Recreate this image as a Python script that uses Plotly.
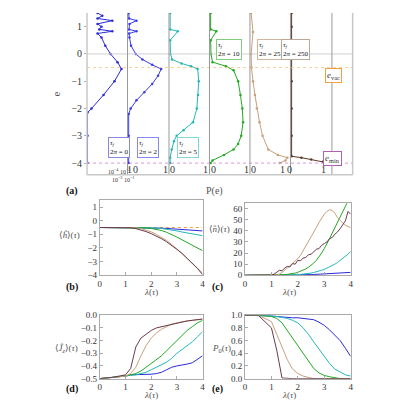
import plotly.graph_objects as go

# ---- panel (a): P(e) strips ----
e1 = [-4.0, -3.0, -2.15, -2.0, -1.5, -1.0, -0.55, -0.3, 0.0, 0.3, 0.6, 0.75, 0.83, 0.9, 1.0, 1.1, 1.22, 1.3, 1.4, 1.5]
p1 = [1e-4, 1e-4, 1e-4, 2.5e-4, 4e-3, 5e-2, 2.5e-1, 1e-1, 2e-2, 6e-3, 2.5e-3, 1e-3, 3e-2, 1.5e-3, 2.5e-3, 1e-3, 3e-2, 1e-3, 3e-3, 1e-3]
e2 = [-4.0, -3.0, -2.2, -2.0, -1.7, -1.4, -1.1, -0.8, -0.55, -0.4, -0.2, 0.0, 0.3, 0.6, 0.75, 0.83, 0.9, 1.1, 1.22, 1.3, 1.5]
p2 = [0, 0, 0, 0.05, 0.2, 0.4, 0.6, 0.75, 0.83, 0.6, 0.35, 0.18, 0.06, 0.02, 0.01, 0.2, 0.01, 0.02, 0.2, 0.01, 0.0]
e3 = [-4.0, -3.8, -3.5, -3.2, -3.0, -2.8, -2.5, -2.0, -1.5, -1.0, -0.55, -0.45, -0.35, -0.2, 0.0, 0.5, 0.83, 0.9, 1.5]
p3 = [0, 0.0, 0.04, 0.1, 0.17, 0.35, 0.6, 0.7, 0.73, 0.75, 0.72, 0.55, 0.3, 0.05, 0.01, 0.0, 0.2, 0.0, 0.0]
e4 = [-4.0, -3.9, -3.7, -3.5, -3.3, -3.0, -2.5, -2.0, -1.5, -1.0, -0.6, -0.45, -0.3, 0.0, 0.5, 0.83, 0.9, 1.5]
p4 = [0, 0.05, 0.35, 0.6, 0.72, 0.8, 0.85, 0.83, 0.78, 0.72, 0.6, 0.4, 0.05, 0.01, 0.0, 0.15, 0.0, 0.0]
e5 = [-4.0, -3.9, -3.8, -3.7, -3.5, -3.0, -2.5, -2.0, -1.5, -1.0, -0.5, 0.0, 0.8, 1.5]
p5 = [0.75, 0.9, 0.95, 0.7, 0.45, 0.3, 0.22, 0.15, 0.1, 0.05, 0.01, 0.0, 0.05, 0.0]
e6 = [-4.0, -3.95, -3.87, -3.8, -3.75, -3.0, -2.0, -1.0, 0.0, 1.0, 1.5]
p6 = [0.95, 0.8, 0.5, 0.25, 0.0, 0.0, 0.0, 0.0, 0.0, 0.0, 0.0]
strip_e = [e1, e2, e3, e4, e5, e6]
strip_p = [p1, p2, p3, p4, p5, p6]
strip_labels = ["0", "2", "5", "10", "25", "250"]
strip_colors = ["#2a2ad8", "#3a3af0", "#22b8b8", "#22aa22", "#c8a07a", "#5a3a28"]
box_colors = ["#8888e0", "#8888f0", "#80d8d8", "#80cc80", "#d0b8a0", "#b8a898"]

# ---- panels (b)-(e) ----
lam = [0, 0.5, 1.0, 1.2, 1.4, 1.6, 1.8, 2.0, 2.2, 2.4, 2.6, 2.8, 3.0, 3.2, 3.4, 3.6, 3.8, 4.0]
h_blue = [-0.5, -0.5, -0.5, -0.5, -0.5, -0.5, -0.51, -0.52, -0.53, -0.55, -0.57, -0.6, -0.62, -0.65, -0.68, -0.7, -0.72, -0.75]
h_cyan = [-0.5, -0.5, -0.5, -0.5, -0.5, -0.5, -0.51, -0.52, -0.54, -0.57, -0.62, -0.68, -0.75, -0.83, -0.9, -0.97, -1.04, -1.1]
h_green = [-0.5, -0.5, -0.5, -0.5, -0.5, -0.51, -0.53, -0.57, -0.63, -0.72, -0.85, -1.0, -1.2, -1.4, -1.6, -1.8, -2.0, -2.2]
h_tan = [-0.5, -0.5, -0.5, -0.5, -0.52, -0.58, -0.68, -0.82, -1.0, -1.2, -1.45, -1.75, -2.05, -2.4, -2.75, -3.1, -3.45, -3.85]
h_brown = [-0.5, -0.5, -0.5, -0.52, -0.58, -0.68, -0.8, -0.95, -1.12, -1.32, -1.55, -1.8, -2.1, -2.4, -2.75, -3.1, -3.5, -3.95]

lam_n = [0, 0.5, 1.0, 1.1, 1.2, 1.3, 1.4, 1.5, 1.6, 1.7, 1.8, 1.9, 2.0, 2.1, 2.2, 2.3, 2.4, 2.5, 2.6, 2.7, 2.8, 2.9, 3.0,
         3.1, 3.2, 3.3, 3.4, 3.5, 3.6, 3.7, 3.8, 3.9, 4.0]
n_blue = [0, 0, 0, 0, 0, 0, 0, 0.1, 0.1, 0.1, 0.2, 0.2, 0.3, 0.3, 0.4, 0.5, 0.5, 0.6, 0.7, 0.8, 0.9, 1.0, 1.1,
          1.2, 1.4, 1.5, 1.6, 1.8, 1.9, 2.1, 2.2, 2.4, 2.6]
n_cyan = [0, 0, 0, 0, 0, 0, 0.1, 0.1, 0.2, 0.3, 0.4, 0.5, 0.6, 0.8, 1.0, 1.3, 1.6, 2.0, 2.5, 3.0, 3.7, 4.5, 5.3,
          6.3, 7.4, 8.6, 10, 11.5, 13.2, 15, 17, 19, 21.5]
n_green = [0, 0, 0, 0.1, 0.2, 0.3, 0.4, 0.6, 0.8, 1.1, 1.5, 2.0, 2.7, 3.5, 4.5, 5.7, 7.2, 9.0, 11, 13.5, 16.5, 20, 24,
           28, 33, 38, 43, 48, 53, 58, 63, 67, 70]
n_tan = [0, 0, 0, 0, 0.3, 1.0, 2.5, 4.5, 6.5, 8.5, 10.5, 12.5, 15, 18, 22, 26, 30, 34, 38.5, 43, 47.5, 51.5, 55,
         57.5, 59, 58.5, 56, 52, 49, 47, 45, 44, 43]
n_brown = [0, 0, 0.2, 1.0, 2.5, 4.5, 4.0, 6.5, 8.0, 7.5, 10.5, 10.0, 13.5, 13.0, 15.5, 16.0, 18.5, 19.0, 21.0, 23.5, 24.0,
           27.0, 28.5, 30.0, 33.0, 34.0, 37.0, 39.0, 42.0, 46.0, 49.0, 57.5, 55.0]

jz_blue = [-0.5, -0.49, -0.48, -0.47, -0.47, -0.47, -0.465, -0.465, -0.46, -0.45, -0.43, -0.41, -0.4, -0.395, -0.385, -0.375, -0.35, -0.32]
jz_cyan = [-0.5, -0.49, -0.48, -0.475, -0.47, -0.46, -0.45, -0.43, -0.41, -0.39, -0.37, -0.34, -0.3, -0.27, -0.24, -0.21, -0.17, -0.13]
jz_green = [-0.5, -0.49, -0.48, -0.47, -0.46, -0.44, -0.41, -0.38, -0.35, -0.32, -0.28, -0.24, -0.2, -0.16, -0.12, -0.09, -0.06, -0.04]
jz_tan = [-0.5, -0.49, -0.48, -0.46, -0.41, -0.32, -0.24, -0.18, -0.14, -0.11, -0.09, -0.07, -0.06, -0.05, -0.045, -0.04, -0.035, -0.03]
jz_brown = [-0.5, -0.49, -0.47, -0.42, -0.25, -0.18, -0.15, -0.12, -0.1, -0.09, -0.08, -0.07, -0.06, -0.05, -0.045, -0.04, -0.035, -0.03]

p0_blue = [1.0, 1.0, 0.99, 0.98, 0.97, 0.97, 0.96, 0.96, 0.95, 0.95, 0.93, 0.89, 0.84, 0.77, 0.68, 0.6, 0.48, 0.35]
p0_cyan = [1.0, 1.0, 0.99, 0.98, 0.97, 0.95, 0.92, 0.88, 0.8, 0.7, 0.58, 0.46, 0.35, 0.24, 0.15, 0.1, 0.06, 0.04]
p0_green = [1.0, 1.0, 0.98, 0.95, 0.88, 0.76, 0.62, 0.5, 0.38, 0.26, 0.16, 0.09, 0.05, 0.03, 0.01, 0.0, 0.0, 0.0]
p0_tan = [1.0, 1.0, 0.9, 0.7, 0.48, 0.3, 0.15, 0.08, 0.04, 0.02, 0.0, 0.0, 0.0, 0.0, 0.0, 0.0, 0.0, 0.0]
p0_brown = [1.0, 1.0, 0.8, 0.45, 0.01, 0.0, 0.0, 0.0, 0.0, 0.0, 0.0, 0.0, 0.0, 0.0, 0.0, 0.0, 0.0, 0.0]

line_colors = ["#2a2ad8", "#22b8b8", "#22aa22", "#c8a07a", "#6a3a4a"]
FONT = "Liberation Serif, DejaVu Serif, serif"
GRAY = "#aaaaaa"
TXT = "#333333"


def note(x, y, text, size=9, **kw):
    # annotation placed in pixel coordinates of the 400x400 page
    fig.add_annotation(xref="paper", yref="paper", x=x / 400, y=1 - y / 400, text=text, showarrow=False,
                       font=dict(family=FONT, size=size, color=kw.pop("color", TXT)), **kw)


fig = go.Figure()

# strips x-pixel edges
edges = [78, 119, 161, 202, 243, 284, 326, 347]
top_y = [1 - 166 / 400, 1.0]
for i in range(6):
    ax = "" if i == 0 else str(i + 1)
    fig.add_trace(go.Scatter(x=strip_p[i], y=strip_e[i], mode="lines+markers",
                             line=dict(color=strip_colors[i], width=1),
                             marker=dict(size=2.5, color=strip_colors[i]),
                             xaxis="x" + ax, yaxis="y", showlegend=False))
    xa = dict(domain=[edges[i] / 400, edges[i + 1] / 400], anchor="y",
              showgrid=False, zeroline=False, showticklabels=False, ticks="")
    if i == 0:
        xa.update(type="log", range=[-4.05, 0])
    else:
        xa.update(range=[-0.03, 1.03])
    fig.update_layout(**{"xaxis" + ax: xa})

fig.update_layout(yaxis=dict(domain=top_y, anchor="x", range=[-4.43, 1.5],
                             tickvals=[-4, -3, -2, -1, 0, 1], ticktext=["−4", "−3", "−2", "−1", "0", "1"],
                             showgrid=False, zeroline=False, ticks="outside", ticklen=2, tickcolor=GRAY,
                             tickfont=dict(family=FONT, size=10, color=TXT),
                             title=dict(text="e", font=dict(family=FONT, size=11, color="#555"), standoff=8)))

# horizontal reference lines across panel (a)
fig.add_shape(type="line", xref="paper", yref="y", x0=edges[0] / 400, x1=edges[-1] / 400, y0=0, y1=0,
              line=dict(color="#d0d0d0", width=1))
fig.add_shape(type="line", xref="paper", yref="y", x0=edges[0] / 400, x1=edges[-1] / 400, y0=-0.5, y1=-0.5,
              line=dict(color="#f8c080", width=0.8, dash="dot"))
fig.add_shape(type="line", xref="paper", yref="y", x0=edges[0] / 400, x1=edges[-1] / 400, y0=-4, y1=-4,
              line=dict(color="#d080d0", width=0.8, dash="dot"))
for k, x in enumerate(edges):
    fig.add_shape(type="line", xref="paper", yref="paper", x0=x / 400, x1=x / 400, y0=top_y[0], y1=1,
                  line=dict(color="#c8c8c8" if k in (0, 7) else "#999999", width=1.5 if k in (0, 7) else 1))
fig.add_shape(type="line", xref="paper", yref="paper", x0=edges[0] / 400, x1=edges[-1] / 400, y0=top_y[0], y1=top_y[0],
              line=dict(color="#c8c8c8", width=1.5))

# strip tick labels
note(97, 162, "10<sup>−4</sup> 10<sup>−2</sup>", size=6)
note(116, 161, "1", size=10)
note(101, 170, "10<sup>−3</sup> 10<sup>−1</sup>", size=6)
for k in range(1, 6):
    note(edges[k] + 4, 161, "0", size=10)
    note(edges[k + 1] - 4, 161, "1", size=10)

# strip labels
label_pos = [(99, 138), (140, 138), (180, 138), (222, 27), (263, 27), (304, 27)]
for i in range(6):
    note(label_pos[i][0], label_pos[i][1],
         "<i>τ<sub>f</sub></i><br>2<i>π</i> = " + strip_labels[i], size=7, color="#111",
         bordercolor=box_colors[i], borderwidth=1, bgcolor="white", borderpad=1, align="left")
note(336, 56, "<i>e</i><sub>vac</sub>", size=9, bordercolor="#f5a040", borderwidth=1, bgcolor="white", borderpad=1)
note(336, 149, "<i>e</i><sub>min</sub>", size=9, bordercolor="#b060b0", borderwidth=1, bgcolor="white", borderpad=1)

# bottom panels
panels = [
    ("8", [91, 195], [192, 269], [-4, 1.5], lam, [h_blue, h_cyan, h_green, h_tan, h_brown],
     [-4, -3, -2, -1, 0, 1], "⟨<i>ĥ</i>⟩(<i>τ</i>)", (48, 228)),
    ("9", [238, 345], [195, 269], [0, 65], lam_n, [n_blue, n_cyan, n_green, n_tan, n_brown],
     [0, 10, 20, 30, 40, 50, 60], "⟨<i>n̂</i>⟩(<i>τ</i>)", (212, 222)),
    ("10", [91, 195], [310, 375], [-0.5, 0], lam, [jz_blue, jz_cyan, jz_green, jz_tan, jz_brown],
     [-0.5, -0.4, -0.3, -0.2, -0.1, 0.0], "⟨<i>Ĵ<sub>z</sub></i>⟩(<i>τ</i>)", (44, 352)),
    ("11", [238, 345], [310, 375], [0, 1], lam, [p0_blue, p0_cyan, p0_green, p0_tan, p0_brown],
     [0, 0.2, 0.4, 0.6, 0.8, 1.0], "<i>P</i><sub>0</sub>(<i>τ</i>)", (214, 352)),
]
for ax, xd, yd, yr, xs, ys, yt, ytitle, tpos in panels:
    if ax == "8":
        fig.add_trace(go.Scatter(x=[0, 4], y=[-0.5, -0.5], mode="lines", line=dict(color="#f5a040", width=1, dash="dot"),
                                 xaxis="x" + ax, yaxis="y" + ax, showlegend=False))
    for c, yv in zip(line_colors, ys):
        fig.add_trace(go.Scatter(x=xs, y=yv, mode="lines", line=dict(color=c, width=1),
                                 xaxis="x" + ax, yaxis="y" + ax, showlegend=False))
    if ax == "10":
        ttxt = ["−0.5", "−0.4", "−0.3", "−0.2", "−0.1", "0.0"]
    elif ax == "11":
        ttxt = ["0.0", "0.2", "0.4", "0.6", "0.8", "1.0"]
    else:
        ttxt = [str(v).replace("-", "−") for v in yt]
    fig.update_layout(**{
        "xaxis" + ax: dict(domain=[xd[0] / 400, xd[1] / 400], anchor="y" + ax, range=[0, 4], tickvals=[0, 1, 2, 3, 4],
                           showline=True, mirror=True, linecolor=GRAY, showgrid=False, zeroline=False,
                           ticks="inside", ticklen=3, tickcolor=GRAY, tickfont=dict(family=FONT, size=9, color=TXT)),
        "yaxis" + ax: dict(domain=[1 - yd[1] / 400, 1 - yd[0] / 400], anchor="x" + ax, range=yr, tickvals=yt, ticktext=ttxt,
                           showline=True, mirror=True, linecolor=GRAY, showgrid=False, zeroline=False,
                           ticks="inside", ticklen=3, tickcolor=GRAY, tickfont=dict(family=FONT, size=9, color=TXT)),
    })
    note(tpos[0], tpos[1], ytitle, size=9, color="#555")
    note((xd[0] + xd[1]) / 2, yd[1] + 24, "<i>λ</i>(<i>τ</i>)", size=9, color="#555")

for txt, x, y in [("(a)", 55, 183), ("(b)", 55, 289), ("(c)", 210, 289), ("(d)", 55, 394), ("(e)", 210, 394)]:
    note(x, y, "<b>" + txt + "</b>", size=10, color="#111")
note(207, 183, "P(e)", size=10, color="#555")

fig.update_layout(width=400, height=400, margin=dict(l=0, r=0, t=0, b=0), plot_bgcolor="white",
                  paper_bgcolor="white")
fig.write_html("out.html")
